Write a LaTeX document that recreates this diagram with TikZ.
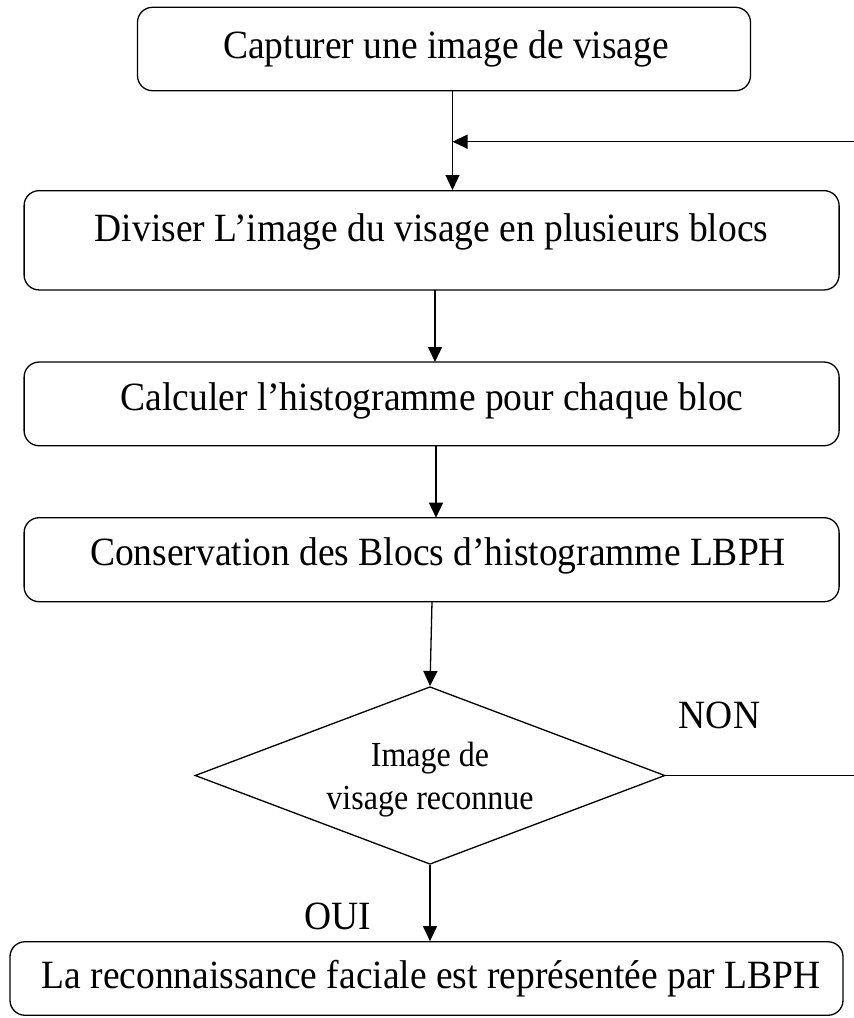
\documentclass[tikz,border=0pt]{standalone}
\usepackage{fontspec}
\setmainfont{Liberation Serif}
\usetikzlibrary{shapes.geometric,arrows.meta}

% slightly tall lettering
\newcommand{\tallbox}[1]{\scalebox{1}[1.07]{#1}}

\begin{document}
\begin{tikzpicture}[x=1pt,y=-1pt,
  stepbox/.style={draw,line width=1.3pt,rounded corners=15pt,inner sep=0pt},
  decision/.style={draw,line width=1.3pt,diamond,inner sep=0pt},
  boxtext/.style={anchor=base,inner sep=0pt,font=\fontsize{37.5}{45}\selectfont},
  smalltext/.style={inner sep=0pt,font=\fontsize{32}{39}\selectfont},
  flow/.style={line width=1.3pt,-{Triangle[length=15pt,width=14pt]}},
  plain/.style={line width=1.3pt}]
  \useasboundingbox (0,0) rectangle (854,1018);

  % process boxes
  \node[stepbox,minimum width=613pt,minimum height=83.4pt] (b1) at (444,49) {};
  \node[stepbox,minimum width=815pt,minimum height=99.3pt] (b2) at (431.6,240.3) {};
  \node[stepbox,minimum width=815pt,minimum height=83.7pt] (b3) at (431.6,403.9) {};
  \node[stepbox,minimum width=815pt,minimum height=84pt] (b4) at (431.6,559.7) {};
  \node[decision,minimum width=470pt,minimum height=177.6pt] (d) at (430,775.5) {};
  \node[stepbox,minimum width=833pt,minimum height=73.5pt] (b5) at (426.5,978.5) {};

  % box captions
  \node[boxtext] (t1) at (446,58) {\tallbox{Capturer une image de visage}};
  \node[boxtext] (t2) at (431.6,241) {\tallbox{Diviser L’image du visage en plusieurs blocs}};
  \node[boxtext] (t3) at (432,410) {\tallbox{Calculer l’histogramme pour chaque bloc}};
  \node[boxtext] (t4) at (438,565) {\tallbox{Conservation des Blocs d’histogramme LBPH}};
  \node[boxtext] (t5) at (431,988) {\tallbox{La reconnaissance faciale est représentée par LBPH}};
  \node[smalltext] (td) at (430,779) {\scalebox{1}[1.1]{\begin{tabular}{@{}c@{}}Image de\\visage reconnue\end{tabular}}};

  % branch labels
  \node[boxtext] (non) at (719.5,728) {\tallbox{NON}};
  \node[boxtext] (oui) at (338,929) {\tallbox{OUI}};

  % connectors
  \coordinate (join) at (452.5,141.7);
  \coordinate (loopR) at (860,775.5);
  \coordinate (loopT) at (860,141.7);
  \draw[flow] (join |- b1.south) -- (join |- b2.north);
  \draw[flow] (435,290) -- (435,362);
  \draw[flow] (436,445.7) -- (436,517.7);
  \draw[flow] (432,601.7) -- (d.north);
  \draw[flow] (d.south) -- (d.south |- b5.north);
  \draw[plain] (d.east) -- (loopR) -- (loopT);
  \draw[flow] (loopT) -- (join);
\end{tikzpicture}
\end{document}
